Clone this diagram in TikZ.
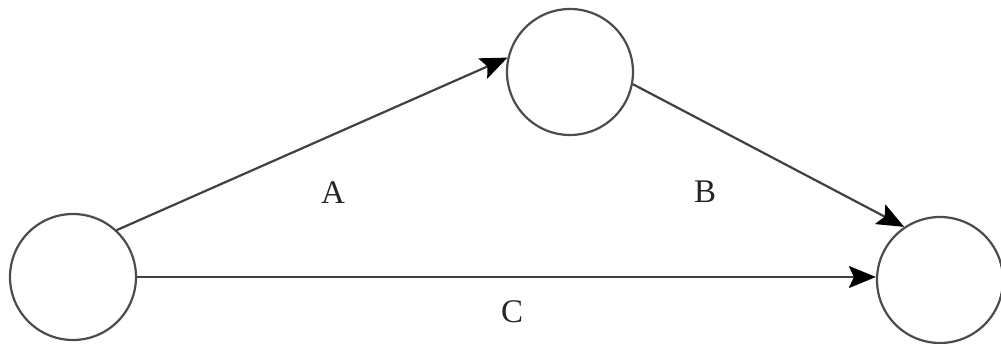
\documentclass[tikz,border=0pt]{standalone}
\usepackage{fontspec}
\setmainfont{Liberation Serif}
\usetikzlibrary{arrows.meta}
\begin{document}
\begin{tikzpicture}[x=1pt,y=-1pt,
  event/.style={circle,draw=black!70,line width=2.2pt,fill=white,
    minimum size=126pt,inner sep=0pt},
  act/.style={draw=black!75,line width=2.2pt,
    -{Stealth[length=27pt,width=22pt,inset=5pt,fill=black,color=black]}},
  lbl/.style={font=\fontsize{33}{33}\selectfont,inner sep=0pt,text=black!85}]
  \useasboundingbox (0,0) rectangle (1001,344);
  \node[event] (L) at (73,277) {};
  \node[event] (T) at (570,72) {};
  \node[event] (R) at (940,280) {};
  \draw[act] (L.47) -- (T.167);
  \draw[act] (T.-11) -- (R.124);
  \draw[act] (L.east) -- (R.west |- L.east);
  \node[lbl] (a) at (333,193) {A};
  \node[lbl] (b) at (705,192) {B};
  \node[lbl] (c) at (512,312) {C};
\end{tikzpicture}
\end{document}
